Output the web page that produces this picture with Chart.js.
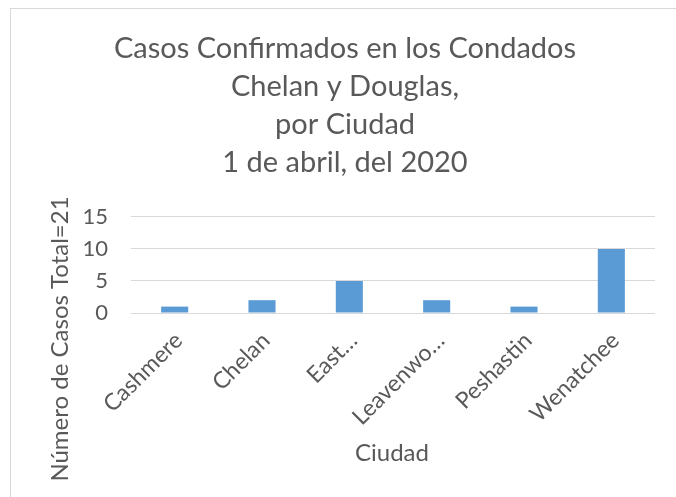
<!DOCTYPE html>
<html>
<head>
<meta charset="utf-8">
<script src="https://cdn.jsdelivr.net/npm/chart.js@4"></script>
<style>
  body { margin: 0; background: #fff; }
  #box {
    position: absolute; left: 10px; top: 8px;
    width: 665px; height: 488px;
    border-top: 1px solid #D9D9D9; border-left: 1px solid #D9D9D9;
  }
  canvas { display: block; }
</style>
</head>
<body>
<div id="box"><canvas id="myChart" width="665" height="488"></canvas></div>
<script>
var ciudades = ['Cashmere', 'Chelan', 'East…', 'Leavenwo…', 'Peshastin', 'Wenatchee'];
var casos = [1, 2, 5, 2, 1, 10];
var titulo = ['Casos Confirmados en los Condados', 'Chelan y Douglas,', 'por Ciudad', '1 de abril, del 2020'];
var tituloX = 'Ciudad';
var tituloY = 'Número de Casos Total=21';

var gris = '#595959';
var fuente = 'Lato';

// axis titles drawn by hand so they sit where Excel put them
var axisTitles = {
    id: 'axisTitles',
    afterDraw: function (chart) {
        var c = chart.ctx;
        c.save();
        c.fillStyle = gris;
        c.font = '24px ' + fuente;
        c.textAlign = 'center';
        c.textBaseline = 'middle';
        c.fillText(tituloX, 381, 444);
        c.translate(49, 330);
        c.rotate(-Math.PI / 2);
        c.fillText(tituloY, 0, 0);
        c.restore();
    }
};

var ctx = document.getElementById('myChart').getContext('2d');
var myChart = new Chart(ctx, {
    type: 'bar',
    data: {
        labels: ciudades,
        datasets: [{
            label: 'Casos',
            data: casos,
            backgroundColor: '#5B9BD5',
            borderWidth: 0,
            categoryPercentage: 1,
            barPercentage: 0.31
        }]
    },
    options: {
        responsive: false,
        animation: false,
        layout: { padding: { left: 24, right: 21, top: 0, bottom: 0 } },
        plugins: {
            legend: { display: false },
            tooltip: { enabled: false },
            title: {
                display: true,
                text: titulo,
                color: gris,
                font: { family: fuente, size: 29, weight: 'normal', lineHeight: 1.31 },
                padding: { top: 21, bottom: 35 }
            }
        },
        scales: {
            x: {
                grid: { display: false },
                border: { display: false },
                ticks: {
                    color: gris,
                    font: { family: fuente, size: 23 },
                    minRotation: 45,
                    maxRotation: 45,
                    autoSkip: false,
                    labelOffset: 4,
                    padding: 6
                },
                afterFit: function (scale) { scale.height = 184; }
            },
            y: {
                min: 0,
                max: 15,
                grid: { color: '#D9D9D9', lineWidth: 1, drawTicks: false },
                border: { display: false },
                ticks: {
                    stepSize: 5,
                    color: gris,
                    font: { family: fuente, size: 22 },
                    padding: 23
                },
                afterFit: function (scale) { scale.width = 96; }
            }
        }
    },
    plugins: [axisTitles]
});
</script>
</body>
</html>
